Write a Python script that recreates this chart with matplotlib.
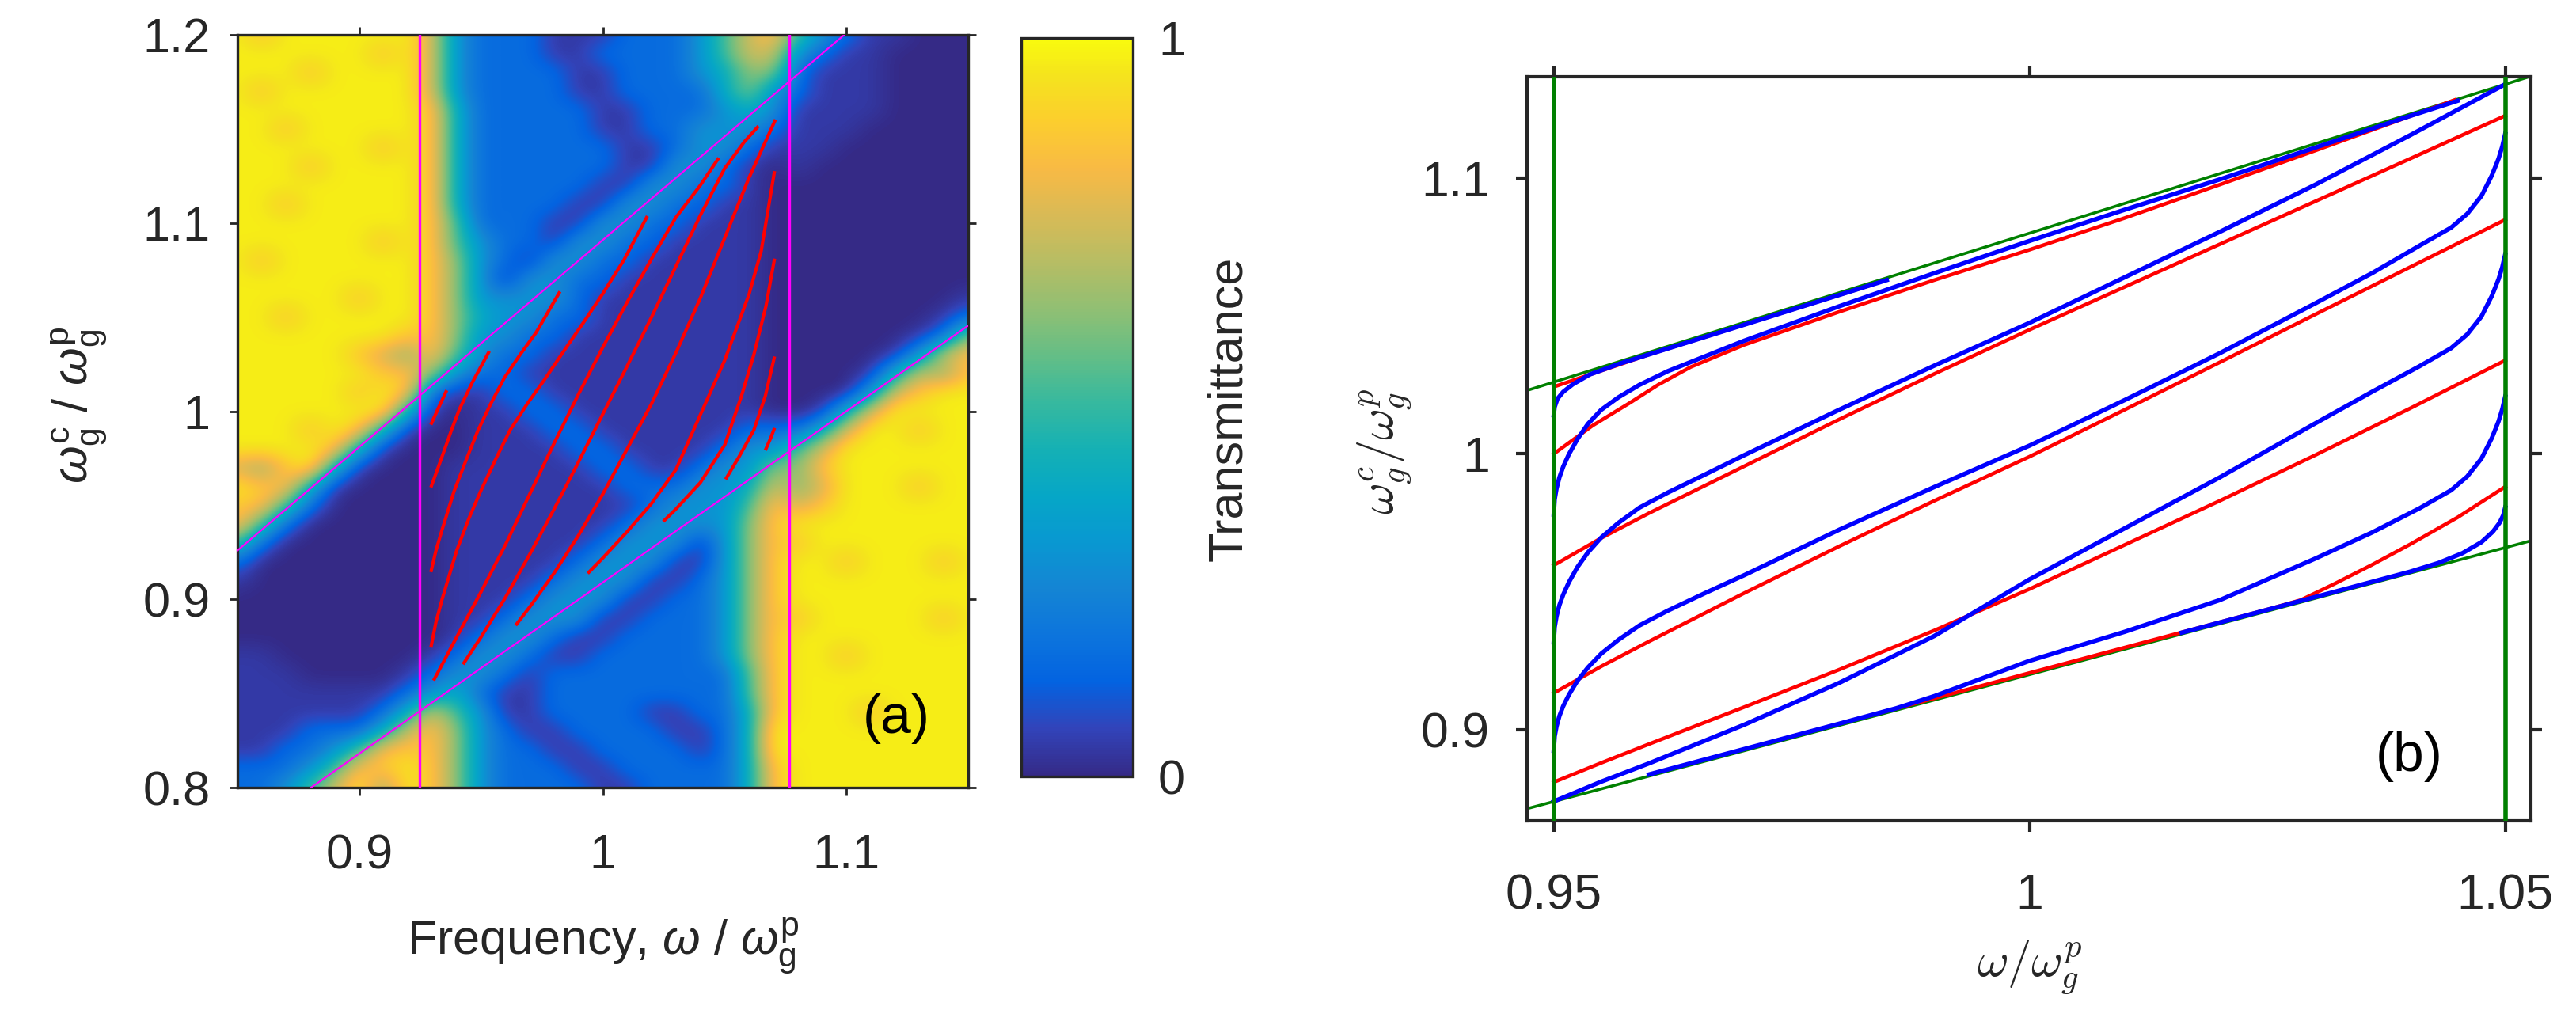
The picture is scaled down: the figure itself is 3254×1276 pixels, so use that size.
import numpy as np
import matplotlib
matplotlib.use("Agg")
import matplotlib.pyplot as plt
from matplotlib.colors import LinearSegmentedColormap

plt.rcParams['font.family'] = ['Liberation Sans', 'DejaVu Sans']
plt.rcParams['mathtext.fontset'] = 'custom'
plt.rcParams['mathtext.rm'] = 'Liberation Sans'
plt.rcParams['mathtext.it'] = 'Liberation Sans:italic'
plt.rcParams['mathtext.bf'] = 'Liberation Sans:bold'

# ---------------- panel (a) data ----------------
# transmittance map on a 0.01 grid
# columns: omega = 0.85 .. 1.15, rows: omega_c = 1.20 (top) .. 0.80 (bottom)
# digit code: 0 dark .. 9 bright, decoded with tone_levels
tone_levels = [0.0, 0.04, 0.16, 0.30, 0.40, 0.52, 0.62, 0.74, 0.86, 0.97]
trans_rows = [
    "98999999" "732221112223578" "53211000",
    "99999989" "732221122223577" "32110000",
    "99989999" "732222112223466" "21110000",
    "98999999" "732222112222463" "21110000",
    "99999999" "842222211222343" "11110000",
    "99899999" "842222211223332" "11100000",
    "99999989" "842222221123321" "11000000",
    "99989999" "842222221133210" "10000000",
    "99999999" "842222211332210" "00000000",
    "99899999" "842222113322110" "00000000",
    "99999999" "852221133221110" "00000000",
    "99999989" "853221332211110" "00000000",
    "98999999" "863213322111110" "00000000",
    "99999999" "863133221111110" "00000000",
    "99999899" "863333211111110" "00000001",
    "99899999" "864332211111110" "00000012",
    "99999998" "863322111111110" "00000126",
    "99999876" "853221111111110" "00001378",
    "99999988" "632211111111110" "00014768",
    "99999898" "211221111111110" "00037899",
    "99999994" "101122111111110" "01479999",
    "99989841" "001112211111122" "24799899",
    "99998410" "001111221111233" "57999999",
    "76894100" "011111122112336" "68999999",
    "98841000" "011111112223347" "67999899",
    "88520000" "011111111233358" "78999999",
    "85200000" "011111112333368" "99999999",
    "52000000" "011111123331368" "89999999",
    "20000000" "011111233311368" "99899989",
    "10000000" "011112333112368" "99999999",
    "00000000" "011123331122368" "99999999",
    "00000000" "011233311222368" "89999989",
    "00000000" "012332112222368" "99999999",
    "11000000" "123321122222368" "99899999",
    "11100001" "233212222222258" "99999999",
    "11111112" "342112222222258" "99999999",
    "11111124" "753112222112248" "99989999",
    "11122247" "863211222211249" "99999999",
    "11223588" "863221122221249" "99999999",
    "22235889" "863222112222248" "99999999",
    "22357969" "863222211222248" "99999999",
]

# red resonance curves in (a)
ridges_a_x = [
    [0.9294, 0.9326, 0.9359],
    [0.9294, 0.9325, 0.9351, 0.9380, 0.9411, 0.9465, 0.9534],
    [0.9294, 0.9315, 0.9340, 0.9389, 0.9440, 0.9487, 0.9540, 0.9596, 0.9660, 0.9726, 0.9824],
    [0.9294, 0.9315, 0.9340, 0.9400, 0.9450, 0.9498, 0.9560, 0.9618, 0.9690, 0.9759, 0.9840,
     0.9922, 1.0000, 1.0085, 1.0183],
    [0.9305, 0.9400, 0.9500, 0.9600, 0.9700, 0.9800, 0.9900, 1.0000, 1.0100, 1.0200, 1.0300,
     1.0400, 1.0476],
    [0.9426, 0.9500, 0.9600, 0.9700, 0.9800, 0.9900, 1.0000, 1.0100, 1.0200, 1.0300, 1.0400,
     1.0500, 1.0580, 1.0639],
    [0.9642, 0.9700, 0.9800, 0.9900, 1.0000, 1.0100, 1.0200, 1.0300, 1.0400, 1.0500, 1.0600, 1.0709],
    [0.9938, 1.0000, 1.0100, 1.0200, 1.0300, 1.0400, 1.0500, 1.0600, 1.0650, 1.0705],
    [1.0248, 1.0300, 1.0400, 1.0500, 1.0569, 1.0620, 1.0670, 1.0705],
    [1.0504, 1.0560, 1.0620, 1.0667, 1.0705],
    [1.0667, 1.0690, 1.0705],
]
ridges_a_y = [
    [0.9928, 1.0020, 1.0111],
    [0.9595, 0.9705, 0.9799, 0.9905, 1.0010, 1.0155, 1.0319],
    [0.9145, 0.9260, 0.9370, 0.9574, 0.9745, 0.9897, 1.0040, 1.0178, 1.0300, 1.0418, 1.0636],
    [0.8744, 0.8880, 0.9000, 0.9260, 0.9430, 0.9574, 0.9745, 0.9897, 1.0040, 1.0165, 1.0320,
     1.0474, 1.0625, 1.0800, 1.1037],
    [0.8569, 0.8800, 0.9040, 0.9290, 0.9560, 0.9830, 1.0090, 1.0340, 1.0580, 1.0810, 1.1030,
     1.1200, 1.1346],
    [0.8655, 0.8800, 0.9010, 0.9240, 0.9480, 0.9730, 0.9985, 1.0240, 1.0500, 1.0770, 1.1040,
     1.1290, 1.1430, 1.1515],
    [0.8862, 0.8960, 0.9140, 0.9340, 0.9560, 0.9800, 1.0040, 1.0310, 1.0600, 1.0920, 1.1240, 1.1550],
    [0.9138, 0.9220, 0.9360, 0.9510, 0.9690, 0.9980, 1.0270, 1.0620, 1.0850, 1.1276],
    [0.9414, 0.9480, 0.9620, 0.9820, 1.0080, 1.0300, 1.0560, 1.0811],
    [0.9638, 0.9760, 0.9900, 1.0080, 1.0291],
    [0.9792, 0.9860, 0.9911],
]

# magenta guide lines in (a)
mag_vert_x = [0.9248, 1.0765]
mag_upper_x, mag_upper_y = [0.850, 1.0991], [0.926, 1.200]
mag_lower_x, mag_lower_y = [0.8802, 1.150], [0.800, 1.0455]

# ---------------- panel (b) data ----------------
green_vert_x = [0.95, 1.05]
green_upper_x, green_upper_y = [0.9472, 1.0527], [1.0230, 1.1369]
green_lower_x, green_lower_y = [0.9472, 1.0527], [0.8714, 0.9685]

red_b_x = [
    [0.950, 0.960, 0.970, 0.983],
    [0.950, 0.9541, 0.958, 0.961, 0.9644, 0.970, 0.980, 0.990, 1.000, 1.010, 1.020, 1.030, 1.040, 1.0447],
    [0.950, 0.955, 0.960, 0.970, 0.980, 0.990, 1.000, 1.010, 1.020, 1.030, 1.040, 1.050],
    [0.950, 0.955, 0.960, 0.970, 0.980, 0.990, 1.000, 1.010, 1.020, 1.030, 1.040, 1.050],
    [0.950, 0.955, 0.960, 0.970, 0.980, 0.990, 1.000, 1.010, 1.020, 1.030, 1.040, 1.050],
    [0.972, 0.980, 0.990, 1.000, 1.010, 1.020, 1.025, 1.0285, 1.032, 1.036, 1.040, 1.045, 1.050],
]
red_b_y = [
    [1.0243, 1.0360, 1.0468, 1.0608],
    [1.000, 1.0103, 1.0185, 1.0251, 1.0315, 1.0395, 1.0515, 1.0630, 1.0740, 1.0855, 1.0976, 1.1099, 1.1224, 1.1283],
    [0.9596, 0.9695, 0.9785, 0.9955, 1.0125, 1.0290, 1.0450, 1.0605, 1.0760, 1.0915, 1.1070, 1.1226],
    [0.9133, 0.9230, 0.9320, 0.9495, 0.9665, 0.9830, 0.9990, 1.0160, 1.0332, 1.0505, 1.0677, 1.0849],
    [0.8810, 0.8880, 0.8948, 0.9082, 0.9218, 0.9360, 0.9510, 0.9670, 0.9830, 0.9995, 1.0165, 1.0339],
    [0.8948, 0.9022, 0.9114, 0.9206, 0.9298, 0.9390, 0.9436, 0.9470, 0.9528, 0.9598, 0.9672, 0.9770, 0.9881],
]

blue_b_x = [
    [0.950, 0.9501, 0.9504, 0.951, 0.952, 0.9538, 0.957, 0.962, 0.970, 0.985],
    [0.950, 0.9501, 0.9503, 0.9506, 0.951, 0.9516, 0.9525, 0.9536, 0.955, 0.9568, 0.959, 0.962,
     0.966, 0.970, 0.980, 0.990, 1.000, 1.010, 1.020, 1.030, 1.040, 1.045],
    [0.950, 0.9501, 0.9503, 0.9506, 0.951, 0.9516, 0.9525, 0.9536, 0.955, 0.9568, 0.959, 0.962,
     0.966, 0.970, 0.980, 0.990, 1.000, 1.010, 1.020, 1.030, 1.040, 1.050],
    [0.950, 0.9501, 0.9503, 0.9506, 0.951, 0.9516, 0.9525, 0.9536, 0.955, 0.9568, 0.959, 0.962,
     0.966, 0.970, 0.980, 0.990, 1.000, 1.010, 1.020, 1.030, 1.036, 1.041, 1.0443, 1.046,
     1.0475, 1.0486, 1.0493, 1.0497, 1.050],
    [0.950, 0.955, 0.960, 0.970, 0.980, 0.990, 1.000, 1.010, 1.020, 1.030, 1.036, 1.041, 1.0443,
     1.046, 1.0475, 1.0486, 1.0493, 1.0497, 1.050],
    [0.960, 0.970, 0.980, 0.986, 0.990, 1.000, 1.010, 1.020, 1.030, 1.036, 1.041, 1.0443, 1.046,
     1.0475, 1.0486, 1.0493, 1.0497, 1.050],
    [1.016, 1.025, 1.035, 1.040, 1.043, 1.0455, 1.0475, 1.0487, 1.0494, 1.0498, 1.050],
]
blue_b_y = [
    [1.0140, 1.0170, 1.0200, 1.0225, 1.0252, 1.0288, 1.0328, 1.0382, 1.0468, 1.0630],
    [0.9780, 0.9835, 0.9875, 0.9915, 0.9954, 0.9999, 1.0054, 1.0109, 1.0160, 1.0205, 1.0250, 1.0300,
     1.0355, 1.0410, 1.0535, 1.0655, 1.0772, 1.0885, 1.0995, 1.1110, 1.1225, 1.1280],
    [0.9317, 0.9372, 0.9412, 0.9452, 0.9490, 0.9535, 0.9590, 0.9643, 0.9697, 0.9750, 0.9805, 0.9860,
     0.9927, 0.9995, 1.0160, 1.0320, 1.0475, 1.0640, 1.0805, 1.0975, 1.1155, 1.1340],
    [0.8924, 0.8976, 0.9013, 0.9050, 0.9086, 0.9127, 0.9178, 0.9226, 0.9276, 0.9326, 0.9378, 0.9432,
     0.9497, 0.9560, 0.9725, 0.9880, 1.0030, 1.0195, 1.0365, 1.0545, 1.0655, 1.0755, 1.0820, 1.0870,
     1.0935, 1.1010, 1.1070, 1.1115, 1.1160],
    [0.8740, 0.8812, 0.8878, 0.9018, 0.9170, 0.9340, 0.9545, 0.9730, 0.9915, 1.0110, 1.0225, 1.0318,
     1.0383, 1.0433, 1.0498, 1.0573, 1.0633, 1.0678, 1.0723],
    [0.8838, 0.8930, 0.9022, 0.9078, 0.9122, 0.9250, 0.9355, 0.9470, 0.9620, 0.9715, 0.9803, 0.9868,
     0.9918, 0.9983, 1.0058, 1.0118, 1.0163, 1.0208],
    [0.9352, 0.9435, 0.9527, 0.9573, 0.9605, 0.9640, 0.9680, 0.9718, 0.9750, 0.9778, 0.9806],
]

# ---------------- colormap (parula) ----------------
parula_colors = [
    (0.2081, 0.1663, 0.5292), (0.1959, 0.2645, 0.7279), (0.0117, 0.3875, 0.8820),
    (0.0498, 0.4586, 0.8641), (0.0793, 0.5200, 0.8312), (0.0343, 0.5966, 0.8199),
    (0.0228, 0.6535, 0.7768), (0.0843, 0.6928, 0.7062), (0.2178, 0.7250, 0.6193),
    (0.3953, 0.7459, 0.5244), (0.5709, 0.7485, 0.4494), (0.7184, 0.7411, 0.3905),
    (0.8507, 0.7299, 0.3360), (0.9739, 0.7314, 0.2666), (0.9880, 0.8066, 0.1794),
    (0.9588, 0.8949, 0.1132), (0.9763, 0.9831, 0.0538),
]
parula_pos = [0, 4, 8, 12, 16, 20, 24, 28, 32, 36, 40, 44, 48, 52, 56, 60, 63]
parula = LinearSegmentedColormap.from_list(
    'parula', [(p / 63, c) for p, c in zip(parula_pos, parula_colors)])

# ---------------- figure ----------------
W, H = 3254, 1276
fig = plt.figure(figsize=(W / 100, H / 100), dpi=100)


def box(l, t, r, b):
    return [l / W, 1 - b / H, (r - l) / W, (b - t) / H]


frame = '#262626'
green = (0, 0.5, 0)

# panel (a)
ax_a = fig.add_axes(box(300, 44, 1223, 995))
trans = np.array([[tone_levels[int(c)] for c in row] for row in trans_rows])
im = ax_a.imshow(trans, extent=[0.845, 1.155, 0.795, 1.205], origin='upper', cmap=parula,
                 vmin=0, vmax=1, interpolation='bicubic', aspect='auto')
for xs, ys in zip(ridges_a_x, ridges_a_y):
    ax_a.plot(xs, ys, color='red', lw=3.0, solid_capstyle='butt', zorder=3)
for xv in mag_vert_x:
    ax_a.axvline(xv, color='magenta', lw=2.4, zorder=4)
ax_a.plot(mag_upper_x, mag_upper_y, color='magenta', lw=1.6, zorder=4)
ax_a.plot(mag_lower_x, mag_lower_y, color='magenta', lw=1.6, zorder=4)
ax_a.set_xlim(0.85, 1.15)
ax_a.set_ylim(0.8, 1.2)
ax_a.set_xticks([0.9, 1.0, 1.1])
ax_a.set_xticklabels(['0.9', '1', '1.1'])
ax_a.set_yticks([0.8, 0.9, 1.0, 1.1, 1.2])
ax_a.set_yticklabels(['0.8', '0.9', '1', '1.1', '1.2'])
ax_a.tick_params(direction='out', length=7, width=2, top=True, right=True,
                 labelsize=44, colors=frame)
ax_a.tick_params(axis='x', pad=35)
ax_a.tick_params(axis='y', pad=18)
for s in ax_a.spines.values():
    s.set_linewidth(2.4)
    s.set_color(frame)
ax_a.text(1.1206, 0.8366, '(a)', ha='center', va='center', fontsize=50, color='black')

fig.text(762 / W, 1 - 1206 / H, r'Frequency, $\omega$ / $\omega_{\mathrm{g}}^{\mathrm{p}}$',
         ha='center', va='baseline', fontsize=44, color=frame)
fig.text(100 / W, 1 - 512 / H, r'$\omega_{\mathrm{g}}^{\mathrm{c}}$ / $\omega_{\mathrm{g}}^{\mathrm{p}}$',
         ha='center', va='center', rotation=90, fontsize=44, color=frame)

# colorbar
cax = fig.add_axes(box(1290, 48, 1431, 981))
cb = fig.colorbar(im, cax=cax, ticks=[0, 1])
cb.ax.set_yticklabels(['0', '1'])
cb.ax.tick_params(length=0, labelsize=44, pad=23, colors=frame)
cb.outline.set_linewidth(2.4)
cb.outline.set_edgecolor(frame)
fig.text(1553 / W, 1 - 516 / H, 'Transmittance', rotation=90, ha='center', va='center',
         fontsize=44, color=frame)

# panel (b)
ax_b = fig.add_axes(box(1929, 97, 3197, 1037))
ax_b.plot(green_upper_x, green_upper_y, color=green, lw=2.6, zorder=2)
ax_b.plot(green_lower_x, green_lower_y, color=green, lw=2.6, zorder=2)
for xs, ys in zip(red_b_x, red_b_y):
    ax_b.plot(xs, ys, color='red', lw=3.3, zorder=3)
for xs, ys in zip(blue_b_x, blue_b_y):
    ax_b.plot(xs, ys, color='blue', lw=4.0, zorder=4)
for xv in green_vert_x:
    ax_b.axvline(xv, color=green, lw=4.0, zorder=5)
ax_b.set_xlim(0.9472, 1.0527)
ax_b.set_ylim(0.867, 1.1367)
ax_b.set_xticks([0.95, 1.0, 1.05])
ax_b.set_xticklabels(['0.95', '1', '1.05'])
ax_b.set_yticks([0.9, 1.0, 1.1])
ax_b.set_yticklabels(['0.9', '1', '1.1'])
ax_b.tick_params(direction='out', length=10, width=3, top=True, right=True,
                 labelsize=45, colors=frame)
ax_b.tick_params(axis='x', pad=37)
ax_b.tick_params(axis='y', pad=24)
for s in ax_b.spines.values():
    s.set_linewidth(3)
    s.set_color(frame)
ax_b.text(1.0399, 0.8901, '(b)', ha='center', va='center', fontsize=50, color='black')

fig.text(2564 / W, 1 - 1222 / H, r'$\omega/\omega_g^p$', math_fontfamily='cm',
         ha='center', va='center', fontsize=44, color=frame)
fig.text(1749 / W, 1 - 570 / H, r'$\omega_g^c/\omega_g^p$', math_fontfamily='cm',
         ha='center', va='center', rotation=90, fontsize=44, color=frame)

fig.savefig('out.png', dpi=100)
